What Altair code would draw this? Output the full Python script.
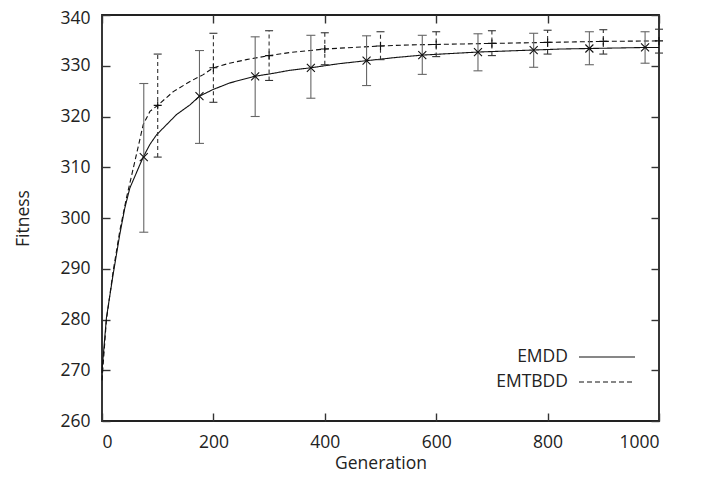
import altair as alt
import pandas as pd

# ---- data ----
emdd_line_gen = [0, 1, 8, 20, 32, 41, 50, 68, 74, 86, 98, 116, 134, 158, 175, 199, 229, 273, 307, 337,
                 375, 425, 475, 525, 575, 625, 675, 725, 775, 825, 875, 925, 975, 1000]
emdd_line_fit = [269.5, 271.2, 280.4, 288.9, 296.8, 302.0, 305.9, 310.5, 312.0, 314.5, 316.4, 318.4, 320.4,
                 322.3, 324.0, 325.3, 326.6, 327.9, 328.5, 329.1, 329.6, 330.4, 331.0, 331.6, 332.1, 332.4,
                 332.7, 332.9, 333.1, 333.3, 333.4, 333.5, 333.6, 333.6]

emtbdd_line_gen = [0, 2, 8, 20, 32, 44, 62, 74, 86, 100, 128, 158, 181, 200, 229, 259, 300, 337, 400, 450,
                   500, 550, 600, 650, 700, 750, 800, 850, 900, 950, 1000]
emtbdd_line_fit = [268.0, 271.0, 280.0, 289.5, 297.5, 304.0, 312.6, 318.4, 321.0, 322.2, 324.9, 326.9, 328.2,
                   329.6, 330.5, 331.2, 332.0, 332.6, 333.3, 333.6, 333.9, 334.1, 334.2, 334.3, 334.4, 334.5,
                   334.6, 334.7, 334.8, 334.85, 334.9]

emdd_gen = [75, 175, 275, 375, 475, 575, 675, 775, 875, 975]
emdd_mean = [312.0, 324.0, 327.9, 329.6, 331.0, 332.1, 332.7, 333.1, 333.4, 333.6]
emdd_lo = [297.2, 314.7, 320.0, 323.6, 326.1, 328.3, 329.0, 329.7, 330.2, 330.5]
emdd_hi = [326.5, 333.0, 335.7, 336.0, 335.9, 336.0, 336.3, 336.4, 336.7, 336.7]

emtbdd_gen = [100, 200, 300, 400, 500, 600, 700, 800, 900, 1000]
emtbdd_mean = [322.2, 329.6, 332.0, 333.3, 333.9, 334.2, 334.4, 334.6, 334.8, 334.9]
emtbdd_lo = [312.0, 322.8, 327.1, 330.2, 331.2, 331.8, 332.0, 332.3, 332.3, 332.5]
emtbdd_hi = [332.3, 336.4, 336.9, 336.5, 336.7, 336.7, 336.9, 337.0, 337.1, 337.2]

series_names = ["EMDD", "EMTBDD"]
x_ticks = [0, 200, 400, 600, 800, 1000]
y_ticks = [260, 270, 280, 290, 300, 310, 320, 330, 340]

FONT = "Open Sans"
FS = 17.5

lines_df = pd.concat([
    pd.DataFrame({"gen": emdd_line_gen, "fit": emdd_line_fit, "series": series_names[0]}),
    pd.DataFrame({"gen": emtbdd_line_gen, "fit": emtbdd_line_fit, "series": series_names[1]}),
])
emdd_df = pd.DataFrame({"gen": emdd_gen, "mean": emdd_mean, "lo": emdd_lo, "hi": emdd_hi})
emtbdd_df = pd.DataFrame({"gen": emtbdd_gen, "mean": emtbdd_mean, "lo": emtbdd_lo, "hi": emtbdd_hi})

xs = alt.Scale(domain=[0, 1000], nice=False, zero=False)
ys = alt.Scale(domain=[260, 340], nice=False, zero=False)

x_bottom = alt.Axis(orient="bottom", values=x_ticks, title="Generation", offset=-8, tickSize=8,
                    labelPadding=12, titleBaseline="alphabetic", titleY=55, format="d")
y_left = alt.Axis(orient="left", values=y_ticks, title="Fitness", offset=-8, tickSize=8,
                  labelPadding=12, titleAngle=270, titleBaseline="alphabetic", titleX=-82, format="d",
                  labelOffset={"condition": {"test": "datum.value == 340", "value": 3.5}, "value": 0})
x_top = alt.Axis(orient="top", values=x_ticks, title=None, labels=False, offset=-8, tickSize=8)
y_right = alt.Axis(orient="right", values=y_ticks, title=None, labels=False, offset=-8, tickSize=8)

lines = alt.Chart(lines_df).mark_line(color="#111", strokeWidth=1.1).encode(
    x=alt.X("gen:Q", scale=xs, axis=x_bottom),
    y=alt.Y("fit:Q", scale=ys, axis=y_left),
    strokeDash=alt.StrokeDash("series:N", scale=alt.Scale(domain=series_names, range=[[1, 0], [5, 3]]),
                              legend=None),
    detail="series:N",
)

bars_emdd = alt.Chart(emdd_df).mark_rule(color="#666", strokeWidth=1.1).encode(
    x=alt.X("gen:Q", scale=xs, axis=x_top),
    y=alt.Y("lo:Q", scale=ys, axis=y_right),
    y2="hi:Q",
)
caps_emdd = alt.Chart(emdd_df).transform_fold(["lo", "hi"], as_=["end", "val"]).mark_point(
    shape="M-1,0L1,0", size=81, filled=False, color="#666", strokeWidth=1.1, opacity=1
).encode(x=alt.X("gen:Q", scale=xs, axis=None), y=alt.Y("val:Q", scale=ys, axis=None))
marks_emdd = alt.Chart(emdd_df).mark_point(
    shape="M-1,-1L1,1M-1,1L1,-1", size=64, filled=False, color="#111", strokeWidth=1.1, opacity=1
).encode(x=alt.X("gen:Q", scale=xs, axis=None), y=alt.Y("mean:Q", scale=ys, axis=None))

bars_emtbdd = alt.Chart(emtbdd_df).mark_rule(color="#333", strokeWidth=1.1, strokeDash=[4, 3]).encode(
    x=alt.X("gen:Q", scale=xs, axis=None),
    y=alt.Y("lo:Q", scale=ys, axis=None),
    y2="hi:Q",
)
caps_emtbdd = alt.Chart(emtbdd_df).transform_fold(["lo", "hi"], as_=["end", "val"]).mark_point(
    shape="M-1,0L1,0", size=64, filled=False, color="#333", strokeWidth=1.1, opacity=1
).encode(x=alt.X("gen:Q", scale=xs, axis=None), y=alt.Y("val:Q", scale=ys, axis=None))
marks_emtbdd = alt.Chart(emtbdd_df).mark_point(
    shape="M-1,0L1,0M0,-1L0,1", size=64, filled=False, color="#111", strokeWidth=1.1, opacity=1
).encode(x=alt.X("gen:Q", scale=xs, axis=None), y=alt.Y("mean:Q", scale=ys, axis=None))

# ---- legend (gnuplot style: label then sample) ----
leg1 = pd.DataFrame({"label": [series_names[0]]})
leg2 = pd.DataFrame({"label": [series_names[1]]})
leg_text1 = alt.Chart(leg1).mark_text(align="right", baseline="middle", font=FONT, fontSize=FS,
                                      color="#222").encode(x=alt.value(466), y=alt.value(342), text="label:N")
leg_text2 = alt.Chart(leg2).mark_text(align="right", baseline="middle", font=FONT, fontSize=FS,
                                      color="#222").encode(x=alt.value(466), y=alt.value(367), text="label:N")
leg_line1 = alt.Chart(leg1).mark_rule(color="#111", strokeWidth=1.1).encode(
    x=alt.value(477), x2=alt.value(533), y=alt.value(342))
leg_line2 = alt.Chart(leg2).mark_rule(color="#111", strokeWidth=1.1, strokeDash=[5, 3]).encode(
    x=alt.value(477), x2=alt.value(533), y=alt.value(367))

chart = alt.layer(
    lines, bars_emdd, caps_emdd, marks_emdd, bars_emtbdd, caps_emtbdd, marks_emtbdd,
    leg_text1, leg_text2, leg_line1, leg_line2,
).properties(
    width=557, height=406,
    padding={"left": 94, "top": 7, "right": 41, "bottom": 52},
    autosize=alt.AutoSizeParams(type="none"),
    background="white",
).configure_view(
    stroke="#222", strokeWidth=1.8
).configure_axis(
    labelFont=FONT, labelFontSize=FS, labelColor="#222",
    titleFont=FONT, titleFontSize=FS, titleFontWeight="normal", titleColor="#222",
    tickColor="#333", tickWidth=1.4, grid=False, domain=False,
)

chart.save("out.html", embed_options={"renderer": "svg", "actions": False})
